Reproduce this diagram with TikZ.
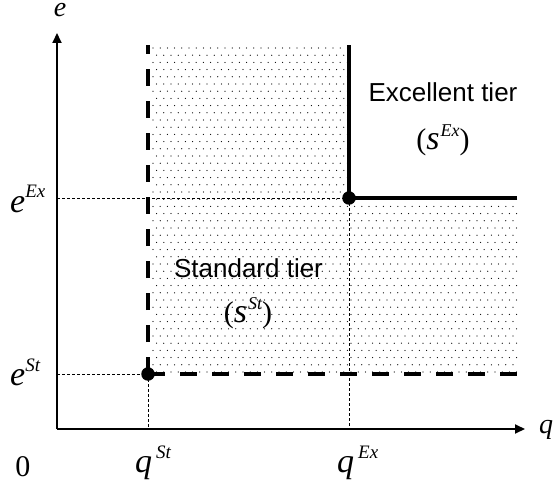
\documentclass[tikz,border=0pt]{standalone}
\usepackage{fontspec}
\setmainfont{Liberation Serif}
\newfontfamily\arialf{Liberation Sans}
\usetikzlibrary{arrows.meta}
\newcommand{\lbl}[3][0pt]{{\fontsize{34}{36}\selectfont\itshape #2\kern#1\raisebox{14pt}{\fontsize{19}{19}\selectfont #3}}}
\newcommand{\slbl}[1]{{\fontsize{30}{32}\selectfont (}{\fontsize{34}{36}\selectfont\itshape s\kern1pt\raisebox{13pt}{\fontsize{18}{18}\selectfont #1}}{\fontsize{30}{32}\selectfont )}}
\begin{document}
\begin{tikzpicture}[x=1pt,y=-1pt,
  axis/.style={line width=2pt,-{Triangle[length=10pt,width=9pt]}},
  thick dash/.style={line width=4.5pt,dash pattern=on 17pt off 15pt},
  thick solid/.style={line width=4.5pt},
  thin dash/.style={line width=0.9pt,dash pattern=on 3pt off 2pt},
  dotpt/.style={circle,fill=black,inner sep=0pt,minimum size=13.5pt},
  tier/.style={font=\arialf\fontsize{26}{28}\selectfont,inner sep=0pt},
  lab/.style={inner sep=0pt}]
\useasboundingbox (0,0) rectangle (556,486);
% coordinates
\coordinate (O) at (57,429);
\coordinate (ytip) at (57,33);
\coordinate (xtip) at (525,429);
\coordinate (qSt) at (148,429);
\coordinate (qEx) at (349,429);
\coordinate (eEx) at (57,198);
\coordinate (eSt) at (57,374);
\coordinate (topSt) at (148,45);
\coordinate (topEx) at (349,45);
\coordinate (rEx) at (517,198);
\coordinate (rSt) at (517,374);
% dotted region
\begin{scope}
\clip (148,45) -- (349,45) -- (349,198) -- (517,198) -- (517,374) -- (148,374) -- cycle;
\foreach \j in {0,...,47} {
  \pgfmathsetmacro{\yy}{48+7.2*\j}
  \pgfmathsetmacro{\off}{mod(\j,2)*3.6}
  \foreach \i in {0,...,53} {
    \fill[black] ({153+\off+7.2*\i},\yy) circle (0.62pt);
  }
}
\end{scope}
% thin dashed guides
\draw[thin dash] (eEx) -- (349,198);
\draw[thin dash] (eSt) -- (148,374);
\draw[thin dash] (148,374) -- (qSt);
\draw[thin dash] (349,198) -- (qEx);
% axes
\draw[axis] (O) -- (ytip);
\draw[axis] (O) -- (xtip);
% tier boundaries
\draw[thick dash] (148,374) -- (topSt);
\draw[thick dash] (148,374) -- (rSt);
\draw[thick solid] (349,198) -- (topEx);
\draw[thick solid] (347.75,198) -- (rEx);
\node[dotpt] (pSt) at (148,374) {};
\node[dotpt] (pEx) at (349,198) {};
% labels
\node[lab,anchor=base] (le) at (60,17) {\fontsize{28}{30}\selectfont\itshape e};
\node[lab,anchor=base] (lq) at (546,433) {\fontsize{28}{30}\selectfont\itshape q};
\node[lab,anchor=base] (l0) at (23,476) {\fontsize{30}{32}\selectfont 0};
\node[lab,anchor=base west] (leEx) at (10,212) {\lbl{e}{Ex}};
\node[lab,anchor=base west] (leSt) at (10,385) {\lbl{e}{St}};
\node[lab,anchor=base west] (lqSt) at (135,472) {\lbl[4pt]{q}{St}};
\node[lab,anchor=base west] (lqEx) at (337,472) {\lbl[4pt]{q}{Ex}};
\node[tier,anchor=base] (tEx) at (443,102) {Excellent tier};
\node[lab,anchor=base] (sEx) at (443,150) {\slbl{Ex}};
\node[tier,anchor=base] (tSt) at (248.5,277) {Standard tier};
\node[lab,anchor=base] (sSt) at (248,322) {\slbl{St}};
\end{tikzpicture}
\end{document}
